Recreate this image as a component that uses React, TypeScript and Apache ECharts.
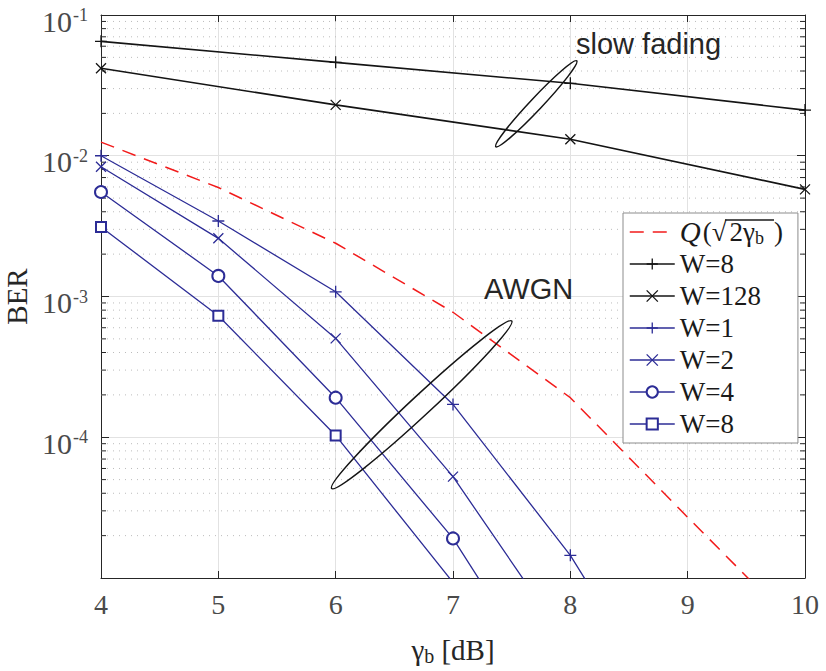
import React, { useEffect, useRef } from "react";
import * as echarts from "echarts";

// ---- data ----
const gammaDb = [4, 5, 6, 7, 8, 9, 10];
const slowGammaDb = [4, 6, 8, 10];
const berQ = [0.0125, 0.00595, 0.00239, 0.000773, 0.000191, 2.7e-5, 3.9e-6];
const berSlowW8 = [0.065, 0.0461, 0.0327, 0.0211];
const berSlowW128 = [0.0418, 0.023, 0.01309, 0.00577];
const berW1 = [0.01, 0.00344, 0.00108, 1.71e-4, 1.45e-5, 6.5e-7];
const berW2 = [0.00835, 0.00259, 5.04e-4, 5.25e-5, 3.2e-6];
const berW4 = [0.00553, 0.0014, 1.91e-4, 1.91e-5, 9.5e-7];
const berW8 = [0.00312, 7.3e-4, 1.03e-4, 9.3e-6];
const decades = [1e-5, 1e-4, 1e-3, 1e-2];
const minorMultipliers = [2, 3, 4, 5, 6, 7, 8, 9];

const PLUS = "path://M5,0L5,10M0,5L10,5";
const CROSS = "path://M0,0L10,10M10,0L0,10";

const BLACK = "#141414";
const BLUE = "#2c2c96";
const RED = "#f21b1b";
const AXIS = "#262626";
const TICKTXT = "#4a4a4a";
const LEGTXT = "#1a1a1a";
const SERIF = "Liberation Serif";
const SANS = "Liberation Sans";

const displayNames: Record<string, string> = {
  Q: "{qi|Q}{qp|(}{qr|√}{q2|2}{qn|γ}{qs|b}{qe|)}",
  "W=8 (slow)": "{t|W=8}",
  "W=128 (slow)": "{t|W=128}",
  "W=1": "{t|W=1}",
  "W=2": "{t|W=2}",
  "W=4": "{t|W=4}",
  "W=8": "{t|W=8}",
};

export default function App() {
  const ref = useRef<HTMLDivElement>(null);
  useEffect(() => {
    const chart = echarts.init(ref.current!, null, { renderer: "svg" });
    const pairs = (xs: number[], ys: number[]) => ys.map((y, i) => [xs[i], y]);
    const lineSeries = (
      name: string,
      xs: number[],
      ys: number[],
      color: string,
      width: number,
      symbol: string,
      size: number,
      dashed = false
    ) => ({
      type: "line",
      name,
      data: pairs(xs, ys),
      symbol,
      symbolSize: size,
      showSymbol: symbol !== "none",
      clip: true,
      z: 3,
      lineStyle: { color, width, type: dashed ? [14, 9] : "solid" },
      itemStyle: { color, borderColor: color, borderWidth: 1.3 },
      emphasis: { disabled: true },
    });

    const minorValues: number[] = [];
    decades.forEach((d) => minorMultipliers.forEach((m) => minorValues.push(m * d)));

    const axisLine = { show: true, onZero: false, lineStyle: { color: AXIS, width: 1 } };
    const legTok = (extra: any) => ({
      fontFamily: SERIF,
      fontSize: 27,
      color: LEGTXT,
      lineHeight: 30,
      ...extra,
    });

    chart.setOption({
      animation: false,
      backgroundColor: "#ffffff",
      grid: {
        left: 101,
        right: 21,
        top: 15,
        bottom: 93,
        containLabel: false,
        outerBoundsMode: "none",
      },
      xAxis: [
        {
          type: "value",
          min: 4,
          max: 10,
          interval: 1,
          position: "bottom",
          axisLine,
          axisTick: { inside: true, length: 7, lineStyle: { color: AXIS } },
          axisLabel: { color: TICKTXT, fontFamily: SERIF, fontSize: 28, margin: 12 },
          splitLine: { show: true, lineStyle: { color: "#e2e2e2", width: 1 } },
          name: "{g|γ}{s|b}{n| [dB]}",
          nameLocation: "middle",
          nameGap: 56,
          nameTextStyle: {
            color: AXIS,
            fontFamily: SERIF,
            fontSize: 29,
            rich: {
              g: { fontFamily: SERIF, fontSize: 29, color: AXIS, lineHeight: 32 },
              s: { fontFamily: SERIF, fontSize: 20, color: AXIS, lineHeight: 20, verticalAlign: "bottom" },
              n: { fontFamily: SERIF, fontSize: 29, color: AXIS, lineHeight: 32 },
            },
          },
        },
        {
          type: "value",
          min: 4,
          max: 10,
          interval: 1,
          position: "top",
          axisLine,
          axisTick: { inside: true, length: 7, lineStyle: { color: AXIS } },
          axisLabel: { show: false },
          splitLine: { show: false },
        },
      ],
      yAxis: [
        {
          type: "log",
          logBase: 10,
          min: 1e-5,
          max: 1e-1,
          position: "left",
          axisLine,
          axisTick: { inside: true, length: 8, lineStyle: { color: AXIS } },
          splitLine: { show: true, lineStyle: { color: "#e2e2e2", width: 1 } },
          axisLabel: {
            margin: 13,
            formatter: (v: number) => {
              const e = Math.round(Math.log10(v));
              if (e <= -5) return "";
              return `{b|10}{s|${e}}`;
            },
            rich: {
              b: { fontFamily: SERIF, fontSize: 30, color: TICKTXT, lineHeight: 30, padding: [12, 0, 0, 0] },
              s: {
                fontFamily: SERIF,
                fontSize: 18,
                color: TICKTXT,
                lineHeight: 18,
                padding: [6, 0, 0, 1],
                verticalAlign: "top",
              },
            },
          },
          name: "BER",
          nameLocation: "middle",
          nameGap: 62,
          nameTextStyle: { color: AXIS, fontFamily: SERIF, fontSize: 29 },
        },
        {
          type: "log",
          logBase: 10,
          min: 1e-5,
          max: 1e-1,
          position: "right",
          axisLine,
          axisTick: { inside: true, length: 8, lineStyle: { color: AXIS } },
          axisLabel: { show: false },
          splitLine: { show: false },
        },
      ],
      legend: {
        orient: "vertical",
        left: 623,
        top: 213,
        padding: [4, 15, 4, 6],
        itemWidth: 45,
        itemHeight: 14,
        itemGap: 2,
        backgroundColor: "#ffffff",
        borderColor: "#8c8c8c",
        borderWidth: 1,
        borderRadius: 0,
        selectedMode: false,
        itemStyle: { borderWidth: 1.3 },
        formatter: (name: string) => displayNames[name] ?? name,
        textStyle: {
          fontFamily: SERIF,
          fontSize: 27,
          color: LEGTXT,
          lineHeight: 30,
          rich: {
            t: legTok({}),
            qi: legTok({ fontSize: 29, fontStyle: "italic" }),
            qp: legTok({ padding: [0, 0, 0, 2] }),
            qr: legTok({}),
            q2: legTok({ padding: [0, 0, 0, 3] }),
            qn: legTok({}),
            qs: { fontFamily: SERIF, fontSize: 18, color: LEGTXT, lineHeight: 18, verticalAlign: "bottom", padding: [0, 10, 0, 0] },
            qe: legTok({}),
          },
        },
        data: [
          { name: "Q", itemStyle: { opacity: 0 }, lineStyle: { width: 1.5 } },
          { name: "W=8 (slow)", lineStyle: { width: 1.5 } },
          { name: "W=128 (slow)", lineStyle: { width: 1.5 } },
          { name: "W=1", lineStyle: { width: 1.3 } },
          { name: "W=2", lineStyle: { width: 1.3 } },
          { name: "W=4", lineStyle: { width: 1.3 } },
          { name: "W=8", lineStyle: { width: 1.3 } },
        ],
      },
      graphic: [
        {
          type: "line",
          shape: { x1: 725, y1: 220, x2: 774, y2: 220 },
          style: { stroke: LEGTXT, lineWidth: 1.3 },
          z: 100,
        },
        {
          type: "ellipse",
          x: 536.3,
          y: 103.8,
          rotation: 0.815,
          shape: { cx: 0, cy: 0, rx: 59, ry: 6 },
          style: { fill: "none", stroke: BLACK, lineWidth: 1.5 },
          z: 50,
        },
        {
          type: "ellipse",
          x: 421.7,
          y: 404.7,
          rotation: 0.749,
          shape: { cx: 0, cy: 0, rx: 123, ry: 10 },
          style: { fill: "none", stroke: BLACK, lineWidth: 1.5 },
          z: 50,
        },
        {
          type: "text",
          x: 576,
          y: 44,
          style: {
            text: "slow fading",
            fontFamily: SANS,
            fontSize: 29,
            fill: AXIS,
            align: "left",
            verticalAlign: "middle",
          },
          z: 50,
        },
        {
          type: "text",
          x: 484,
          y: 289,
          style: {
            text: "AWGN",
            fontFamily: SANS,
            fontSize: 29,
            fill: AXIS,
            align: "left",
            verticalAlign: "middle",
          },
          z: 50,
        },
      ],
      series: [
        {
          type: "custom",
          name: "minor",
          silent: true,
          z: 1,
          clip: false,
          encode: { x: 0, y: 1 },
          data: minorValues.map((v) => [4, v]),
          renderItem: (params: any, api: any) => {
            const cs = params.coordSys;
            const y = api.coord([4, api.value(1)])[1];
            const x0 = cs.x;
            const x1 = cs.x + cs.width;
            return {
              type: "group",
              children: [
                {
                  type: "line",
                  shape: { x1: x0, y1: y, x2: x1, y2: y },
                  style: { stroke: "#bcbcbc", lineWidth: 1, lineDash: [1, 5] },
                },
                {
                  type: "line",
                  shape: { x1: x0, y1: y, x2: x0 + 5, y2: y },
                  style: { stroke: AXIS, lineWidth: 1 },
                },
                {
                  type: "line",
                  shape: { x1: x1 - 5, y1: y, x2: x1, y2: y },
                  style: { stroke: AXIS, lineWidth: 1 },
                },
              ],
            };
          },
        },
        lineSeries("Q", gammaDb, berQ, RED, 1.5, "none", 0, true),
        lineSeries("W=8 (slow)", slowGammaDb, berSlowW8, BLACK, 1.6, PLUS, 12),
        lineSeries("W=128 (slow)", slowGammaDb, berSlowW128, BLACK, 1.6, CROSS, 10),
        lineSeries("W=1", gammaDb, berW1, BLUE, 1.3, PLUS, 12),
        lineSeries("W=2", gammaDb, berW2, BLUE, 1.3, CROSS, 10),
        lineSeries("W=4", gammaDb, berW4, BLUE, 1.3, "emptyCircle", 12),
        lineSeries("W=8", gammaDb, berW8, BLUE, 1.3, "emptyRect", 10),
      ],
    });
    return () => chart.dispose();
  }, []);
  return (
    <div
      ref={ref}
      style={{ position: "fixed", left: 0, top: 0, width: 826, height: 671 }}
    />
  );
}
